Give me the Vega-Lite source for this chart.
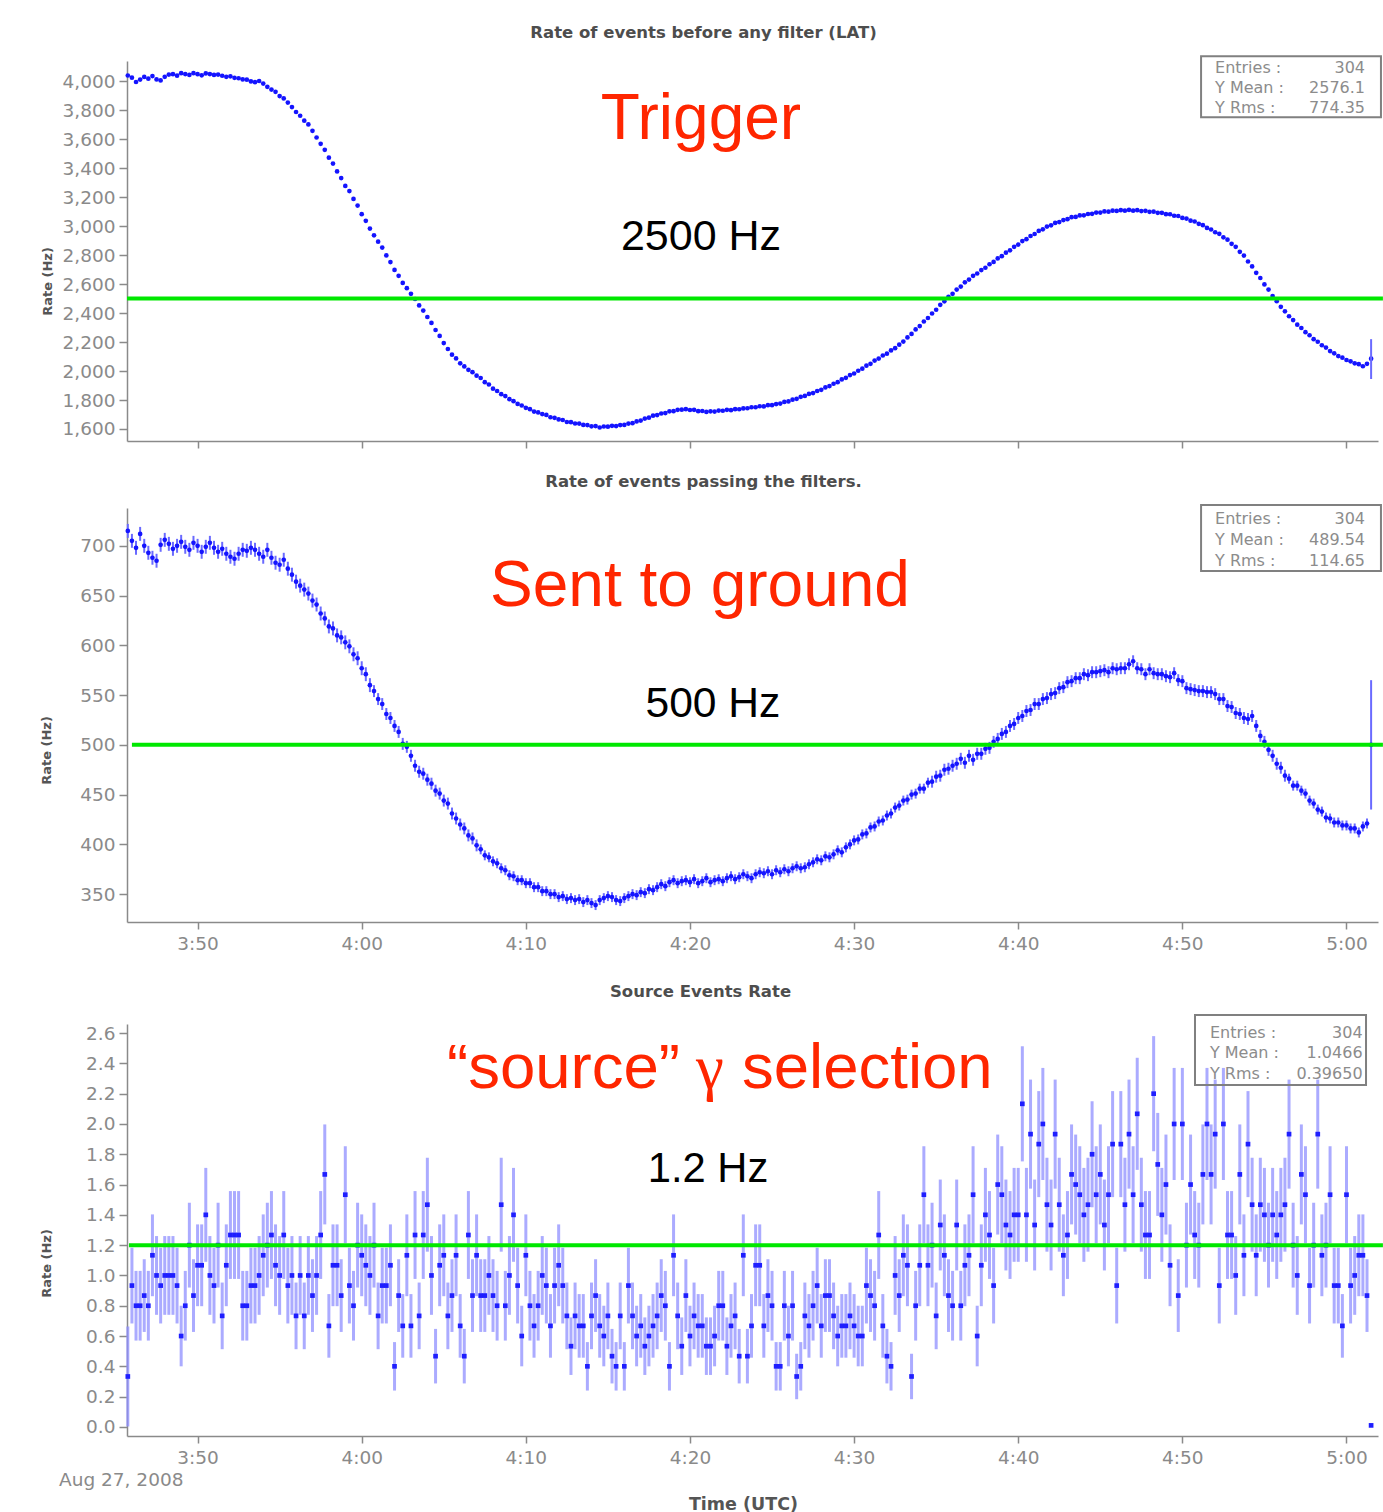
{
"$schema":"https://vega.github.io/schema/vega-lite/v6.json",
"padding":{"left":40,"top":24,"right":0,"bottom":0},
"background":"white",
"config":{"view":{"stroke":null},
"axis":{"grid":false,"domainColor":"#8a8a8a","domainWidth":1.5,"tickColor":"#8a8a8a","tickWidth":1.5,"tickSize":8,"labelColor":"#8a8a8a","labelFont":"DejaVu Sans","labelFontSize":18.5,"labelPadding":4,"titleFont":"DejaVu Sans","titleFontWeight":"bold","titleColor":"#555555","titleFontSize":13},
"axisX":{"tickSize":7,"labelPadding":5},
"title":{"font":"DejaVu Sans","fontSize":16.5,"fontWeight":"bold","color":"#4d4d4d","anchor":"middle"}},
"datasets":{"d":[
{"t":225.75,"a":4040,"b":715,"eb":7,"c":0.333,"ec":0.33},
{"t":226,"a":4025,"b":705,"eb":7,"c":0.933,"ec":0.25},
{"t":226.25,"a":3995,"b":698,"eb":7,"c":0.8,"ec":0.23},
{"t":226.5,"a":4012,"b":712,"eb":7,"c":0.8,"ec":0.23},
{"t":226.75,"a":4030,"b":700,"eb":7,"c":0.867,"ec":0.24},
{"t":227,"a":4018,"b":693,"eb":7,"c":0.8,"ec":0.23},
{"t":227.25,"a":4036,"b":688,"eb":7,"c":1.133,"ec":0.27},
{"t":227.5,"a":4013,"b":685,"eb":7,"c":1.0,"ec":0.26},
{"t":227.75,"a":4006,"b":701,"eb":7,"c":0.933,"ec":0.25},
{"t":228,"a":4031,"b":706,"eb":7,"c":1.0,"ec":0.26},
{"t":228.25,"a":4046,"b":702,"eb":7,"c":1.0,"ec":0.26},
{"t":228.5,"a":4049,"b":697,"eb":7,"c":1.0,"ec":0.26},
{"t":228.75,"a":4039,"b":700,"eb":7,"c":0.933,"ec":0.25},
{"t":229,"a":4056,"b":704,"eb":7,"c":0.6,"ec":0.2},
{"t":229.25,"a":4050,"b":699,"eb":7,"c":0.8,"ec":0.23},
{"t":229.5,"a":4044,"b":696,"eb":7,"c":1.2,"ec":0.28},
{"t":229.75,"a":4056,"b":703,"eb":7,"c":0.867,"ec":0.24},
{"t":230,"a":4049,"b":700,"eb":7,"c":1.067,"ec":0.27},
{"t":230.25,"a":4041,"b":694,"eb":7,"c":1.067,"ec":0.27},
{"t":230.5,"a":4054,"b":699,"eb":7,"c":1.4,"ec":0.31},
{"t":230.75,"a":4050,"b":703,"eb":7,"c":1.0,"ec":0.26},
{"t":231,"a":4044,"b":698,"eb":7,"c":0.933,"ec":0.25},
{"t":231.25,"a":4046,"b":694,"eb":7,"c":1.2,"ec":0.28},
{"t":231.5,"a":4038,"b":697,"eb":7,"c":0.733,"ec":0.22},
{"t":231.75,"a":4031,"b":692,"eb":7,"c":1.067,"ec":0.27},
{"t":232,"a":4034,"b":689,"eb":7,"c":1.267,"ec":0.29},
{"t":232.25,"a":4024,"b":687,"eb":7,"c":1.267,"ec":0.29},
{"t":232.5,"a":4021,"b":692,"eb":7,"c":1.267,"ec":0.29},
{"t":232.75,"a":4013,"b":696,"eb":7,"c":0.8,"ec":0.23},
{"t":233,"a":4011,"b":695,"eb":7,"c":0.8,"ec":0.23},
{"t":233.25,"a":3999,"b":698,"eb":7,"c":0.933,"ec":0.25},
{"t":233.5,"a":3994,"b":696,"eb":7,"c":0.933,"ec":0.25},
{"t":233.75,"a":4002,"b":692,"eb":7,"c":1.0,"ec":0.26},
{"t":234,"a":3984,"b":689,"eb":7,"c":1.133,"ec":0.27},
{"t":234.25,"a":3962,"b":696,"eb":7,"c":1.2,"ec":0.28},
{"t":234.5,"a":3943,"b":688,"eb":7,"c":1.267,"ec":0.29},
{"t":234.75,"a":3927,"b":683,"eb":7,"c":1.067,"ec":0.27},
{"t":235,"a":3898,"b":681,"eb":7,"c":1.0,"ec":0.26},
{"t":235.25,"a":3882,"b":686,"eb":7,"c":1.267,"ec":0.29},
{"t":235.5,"a":3853,"b":677,"eb":7,"c":0.933,"ec":0.25},
{"t":235.75,"a":3822,"b":671,"eb":7,"c":1.0,"ec":0.26},
{"t":236,"a":3788,"b":664,"eb":7,"c":0.733,"ec":0.22},
{"t":236.25,"a":3762,"b":660,"eb":7,"c":1.0,"ec":0.26},
{"t":236.5,"a":3728,"b":656,"eb":7,"c":0.733,"ec":0.22},
{"t":236.75,"a":3702,"b":652,"eb":7,"c":1.0,"ec":0.26},
{"t":237,"a":3658,"b":645,"eb":7,"c":0.867,"ec":0.24},
{"t":237.25,"a":3612,"b":641,"eb":7,"c":1.0,"ec":0.26},
{"t":237.5,"a":3568,"b":632,"eb":7,"c":1.267,"ec":0.29},
{"t":237.75,"a":3527,"b":627,"eb":7,"c":1.667,"ec":0.33},
{"t":238,"a":3473,"b":619,"eb":7,"c":0.667,"ec":0.21},
{"t":238.25,"a":3432,"b":617,"eb":7,"c":1.067,"ec":0.27},
{"t":238.5,"a":3378,"b":610,"eb":7,"c":1.067,"ec":0.27},
{"t":238.75,"a":3332,"b":608,"eb":7,"c":0.867,"ec":0.24},
{"t":239,"a":3278,"b":603,"eb":7,"c":1.533,"ec":0.32},
{"t":239.25,"a":3242,"b":599,"eb":7,"c":0.933,"ec":0.25},
{"t":239.5,"a":3188,"b":591,"eb":7,"c":0.8,"ec":0.23},
{"t":239.75,"a":3142,"b":587,"eb":7,"c":1.2,"ec":0.28},
{"t":240,"a":3083,"b":577,"eb":7,"c":1.133,"ec":0.27},
{"t":240.25,"a":3037,"b":571,"eb":7,"c":1.067,"ec":0.27},
{"t":240.5,"a":2983,"b":560,"eb":7,"c":1.0,"ec":0.26},
{"t":240.75,"a":2937,"b":554,"eb":6,"c":1.2,"ec":0.28},
{"t":241,"a":2893,"b":546,"eb":6,"c":0.733,"ec":0.22},
{"t":241.25,"a":2852,"b":541,"eb":6,"c":0.933,"ec":0.25},
{"t":241.5,"a":2798,"b":531,"eb":6,"c":0.933,"ec":0.25},
{"t":241.75,"a":2752,"b":527,"eb":6,"c":1.067,"ec":0.27},
{"t":242,"a":2698,"b":519,"eb":6,"c":0.4,"ec":0.16},
{"t":242.25,"a":2657,"b":513,"eb":6,"c":0.867,"ec":0.24},
{"t":242.5,"a":2608,"b":501,"eb":6,"c":0.667,"ec":0.21},
{"t":242.75,"a":2572,"b":498,"eb":6,"c":1.133,"ec":0.27},
{"t":243,"a":2533,"b":489,"eb":6,"c":0.667,"ec":0.21},
{"t":243.25,"a":2497,"b":479,"eb":6,"c":1.267,"ec":0.29},
{"t":243.5,"a":2453,"b":473,"eb":6,"c":0.733,"ec":0.22},
{"t":243.75,"a":2417,"b":471,"eb":6,"c":1.267,"ec":0.29},
{"t":244,"a":2373,"b":465,"eb":6,"c":1.467,"ec":0.31},
{"t":244.25,"a":2332,"b":461,"eb":6,"c":1.0,"ec":0.26},
{"t":244.5,"a":2283,"b":454,"eb":6,"c":0.467,"ec":0.18},
{"t":244.75,"a":2242,"b":451,"eb":6,"c":1.067,"ec":0.27},
{"t":245,"a":2193,"b":444,"eb":6,"c":1.133,"ec":0.27},
{"t":245.25,"a":2152,"b":441,"eb":6,"c":0.733,"ec":0.22},
{"t":245.5,"a":2113,"b":431,"eb":6,"c":0.867,"ec":0.24},
{"t":245.75,"a":2087,"b":426,"eb":6,"c":1.133,"ec":0.27},
{"t":246,"a":2053,"b":420,"eb":6,"c":0.667,"ec":0.21},
{"t":246.25,"a":2032,"b":416,"eb":6,"c":0.467,"ec":0.18},
{"t":246.5,"a":2008,"b":409,"eb":6,"c":1.267,"ec":0.29},
{"t":246.75,"a":1992,"b":406,"eb":6,"c":0.867,"ec":0.24},
{"t":247,"a":1968,"b":399,"eb":6,"c":1.133,"ec":0.27},
{"t":247.25,"a":1952,"b":395,"eb":5,"c":0.867,"ec":0.24},
{"t":247.5,"a":1923,"b":389,"eb":5,"c":0.867,"ec":0.24},
{"t":247.75,"a":1907,"b":387,"eb":5,"c":1.0,"ec":0.26},
{"t":248,"a":1878,"b":383,"eb":5,"c":0.867,"ec":0.24},
{"t":248.25,"a":1862,"b":381,"eb":5,"c":0.8,"ec":0.23},
{"t":248.5,"a":1840,"b":376,"eb":5,"c":1.467,"ec":0.31},
{"t":248.75,"a":1827,"b":374,"eb":5,"c":0.8,"ec":0.23},
{"t":249,"a":1806,"b":369,"eb":5,"c":1.0,"ec":0.26},
{"t":249.25,"a":1792,"b":368,"eb":5,"c":1.4,"ec":0.31},
{"t":249.5,"a":1773,"b":364,"eb":5,"c":0.933,"ec":0.25},
{"t":249.75,"a":1762,"b":364,"eb":5,"c":0.6,"ec":0.2},
{"t":250,"a":1746,"b":361,"eb":5,"c":1.133,"ec":0.27},
{"t":250.25,"a":1737,"b":361,"eb":5,"c":0.8,"ec":0.23},
{"t":250.5,"a":1720,"b":357,"eb":5,"c":0.667,"ec":0.21},
{"t":250.75,"a":1714,"b":357,"eb":5,"c":0.8,"ec":0.23},
{"t":251,"a":1703,"b":353,"eb":5,"c":1.0,"ec":0.26},
{"t":251.25,"a":1697,"b":353,"eb":5,"c":0.933,"ec":0.25},
{"t":251.5,"a":1681,"b":350,"eb":5,"c":0.667,"ec":0.21},
{"t":251.75,"a":1677,"b":350,"eb":5,"c":0.933,"ec":0.25},
{"t":252,"a":1666,"b":347,"eb":5,"c":1.067,"ec":0.27},
{"t":252.25,"a":1662,"b":348,"eb":5,"c":0.933,"ec":0.25},
{"t":252.5,"a":1648,"b":345,"eb":5,"c":0.733,"ec":0.22},
{"t":252.75,"a":1647,"b":346,"eb":5,"c":0.533,"ec":0.19},
{"t":253,"a":1638,"b":344,"eb":5,"c":0.733,"ec":0.22},
{"t":253.25,"a":1637,"b":345,"eb":5,"c":0.667,"ec":0.21},
{"t":253.5,"a":1628,"b":342,"eb":5,"c":0.667,"ec":0.21},
{"t":253.75,"a":1627,"b":344,"eb":5,"c":0.4,"ec":0.16},
{"t":254,"a":1618,"b":341,"eb":5,"c":0.733,"ec":0.22},
{"t":254.25,"a":1620,"b":339,"eb":5,"c":0.867,"ec":0.24},
{"t":254.5,"a":1610,"b":344,"eb":5,"c":0.667,"ec":0.21},
{"t":254.75,"a":1617,"b":346,"eb":5,"c":0.6,"ec":0.2},
{"t":255,"a":1616,"b":348,"eb":5,"c":0.733,"ec":0.22},
{"t":255.25,"a":1622,"b":347,"eb":5,"c":0.467,"ec":0.18},
{"t":255.5,"a":1620,"b":344,"eb":5,"c":0.4,"ec":0.16},
{"t":255.75,"a":1627,"b":343,"eb":5,"c":0.733,"ec":0.22},
{"t":256,"a":1628,"b":346,"eb":5,"c":0.4,"ec":0.16},
{"t":256.25,"a":1637,"b":348,"eb":5,"c":0.933,"ec":0.25},
{"t":256.5,"a":1640,"b":350,"eb":5,"c":0.733,"ec":0.22},
{"t":256.75,"a":1652,"b":349,"eb":5,"c":0.6,"ec":0.2},
{"t":257,"a":1658,"b":352,"eb":5,"c":0.667,"ec":0.21},
{"t":257.25,"a":1672,"b":351,"eb":5,"c":0.533,"ec":0.19},
{"t":257.5,"a":1678,"b":355,"eb":5,"c":0.6,"ec":0.2},
{"t":257.75,"a":1692,"b":354,"eb":5,"c":0.667,"ec":0.21},
{"t":258,"a":1696,"b":357,"eb":5,"c":0.733,"ec":0.22},
{"t":258.25,"a":1707,"b":360,"eb":5,"c":0.867,"ec":0.24},
{"t":258.5,"a":1710,"b":358,"eb":5,"c":0.8,"ec":0.23},
{"t":258.75,"a":1722,"b":362,"eb":5,"c":0.4,"ec":0.16},
{"t":259,"a":1723,"b":364,"eb":5,"c":1.133,"ec":0.27},
{"t":259.25,"a":1732,"b":361,"eb":5,"c":0.733,"ec":0.22},
{"t":259.5,"a":1733,"b":363,"eb":5,"c":0.533,"ec":0.19},
{"t":259.75,"a":1737,"b":364,"eb":5,"c":0.867,"ec":0.24},
{"t":260,"a":1731,"b":362,"eb":5,"c":0.6,"ec":0.2},
{"t":260.25,"a":1732,"b":365,"eb":5,"c":0.733,"ec":0.22},
{"t":260.5,"a":1723,"b":361,"eb":5,"c":0.667,"ec":0.21},
{"t":260.75,"a":1724,"b":363,"eb":5,"c":0.667,"ec":0.21},
{"t":261,"a":1718,"b":366,"eb":5,"c":0.533,"ec":0.19},
{"t":261.25,"a":1722,"b":362,"eb":5,"c":0.533,"ec":0.19},
{"t":261.5,"a":1720,"b":364,"eb":5,"c":0.6,"ec":0.2},
{"t":261.75,"a":1727,"b":365,"eb":5,"c":0.8,"ec":0.23},
{"t":262,"a":1726,"b":363,"eb":5,"c":0.8,"ec":0.23},
{"t":262.25,"a":1732,"b":366,"eb":5,"c":0.533,"ec":0.19},
{"t":262.5,"a":1730,"b":368,"eb":5,"c":0.667,"ec":0.21},
{"t":262.75,"a":1737,"b":365,"eb":5,"c":0.733,"ec":0.22},
{"t":263,"a":1736,"b":367,"eb":5,"c":0.467,"ec":0.18},
{"t":263.25,"a":1742,"b":370,"eb":5,"c":1.133,"ec":0.27},
{"t":263.5,"a":1743,"b":368,"eb":5,"c":0.467,"ec":0.18},
{"t":263.75,"a":1750,"b":366,"eb":5,"c":0.667,"ec":0.21},
{"t":264,"a":1750,"b":370,"eb":5,"c":1.067,"ec":0.27},
{"t":264.25,"a":1757,"b":372,"eb":5,"c":1.067,"ec":0.27},
{"t":264.5,"a":1756,"b":371,"eb":5,"c":0.667,"ec":0.21},
{"t":264.75,"a":1764,"b":373,"eb":5,"c":0.867,"ec":0.24},
{"t":265,"a":1764,"b":370,"eb":5,"c":0.8,"ec":0.23},
{"t":265.25,"a":1772,"b":374,"eb":5,"c":0.4,"ec":0.16},
{"t":265.5,"a":1775,"b":372,"eb":5,"c":0.4,"ec":0.16},
{"t":265.75,"a":1787,"b":375,"eb":5,"c":0.8,"ec":0.23},
{"t":266,"a":1790,"b":373,"eb":5,"c":0.6,"ec":0.2},
{"t":266.25,"a":1802,"b":376,"eb":5,"c":0.8,"ec":0.23},
{"t":266.5,"a":1808,"b":378,"eb":5,"c":0.333,"ec":0.15},
{"t":266.75,"a":1822,"b":376,"eb":5,"c":0.4,"ec":0.16},
{"t":267,"a":1828,"b":377,"eb":5,"c":0.733,"ec":0.22},
{"t":267.25,"a":1842,"b":380,"eb":5,"c":0.667,"ec":0.21},
{"t":267.5,"a":1848,"b":382,"eb":5,"c":0.8,"ec":0.23},
{"t":267.75,"a":1862,"b":385,"eb":5,"c":0.933,"ec":0.25},
{"t":268,"a":1870,"b":384,"eb":5,"c":0.667,"ec":0.21},
{"t":268.25,"a":1887,"b":388,"eb":5,"c":0.867,"ec":0.24},
{"t":268.5,"a":1896,"b":387,"eb":5,"c":0.867,"ec":0.24},
{"t":268.75,"a":1912,"b":390,"eb":5,"c":0.733,"ec":0.22},
{"t":269,"a":1923,"b":394,"eb":5,"c":0.6,"ec":0.2},
{"t":269.25,"a":1942,"b":392,"eb":5,"c":0.667,"ec":0.21},
{"t":269.5,"a":1953,"b":397,"eb":5,"c":0.667,"ec":0.21},
{"t":269.75,"a":1972,"b":400,"eb":5,"c":0.733,"ec":0.22},
{"t":270,"a":1983,"b":404,"eb":5,"c":0.667,"ec":0.21},
{"t":270.25,"a":2002,"b":405,"eb":5,"c":0.6,"ec":0.2},
{"t":270.5,"a":2016,"b":410,"eb":5,"c":0.6,"ec":0.2},
{"t":270.75,"a":2037,"b":411,"eb":5,"c":0.933,"ec":0.25},
{"t":271,"a":2050,"b":417,"eb":5,"c":0.867,"ec":0.24},
{"t":271.25,"a":2072,"b":418,"eb":5,"c":0.8,"ec":0.23},
{"t":271.5,"a":2086,"b":423,"eb":5,"c":1.267,"ec":0.29},
{"t":271.75,"a":2107,"b":424,"eb":5,"c":0.667,"ec":0.21},
{"t":272,"a":2120,"b":429,"eb":5,"c":0.467,"ec":0.18},
{"t":272.25,"a":2142,"b":431,"eb":5,"c":0.4,"ec":0.16},
{"t":272.5,"a":2158,"b":437,"eb":5,"c":1.0,"ec":0.26},
{"t":272.75,"a":2182,"b":439,"eb":5,"c":0.867,"ec":0.24},
{"t":273,"a":2203,"b":444,"eb":5,"c":1.133,"ec":0.27},
{"t":273.25,"a":2232,"b":445,"eb":5,"c":1.067,"ec":0.27},
{"t":273.5,"a":2256,"b":450,"eb":5,"c":0.333,"ec":0.15},
{"t":273.75,"a":2287,"b":451,"eb":5,"c":0.8,"ec":0.23},
{"t":274,"a":2310,"b":456,"eb":5,"c":1.067,"ec":0.27},
{"t":274.25,"a":2342,"b":456,"eb":5,"c":1.533,"ec":0.32},
{"t":274.5,"a":2366,"b":462,"eb":5,"c":1.067,"ec":0.27},
{"t":274.75,"a":2397,"b":463,"eb":6,"c":1.2,"ec":0.28},
{"t":275,"a":2423,"b":468,"eb":6,"c":0.733,"ec":0.22},
{"t":275.25,"a":2457,"b":469,"eb":6,"c":1.333,"ec":0.3},
{"t":275.5,"a":2481,"b":475,"eb":6,"c":1.133,"ec":0.27},
{"t":275.75,"a":2512,"b":476,"eb":6,"c":0.867,"ec":0.24},
{"t":276,"a":2533,"b":479,"eb":6,"c":0.8,"ec":0.23},
{"t":276.25,"a":2562,"b":481,"eb":6,"c":1.333,"ec":0.3},
{"t":276.5,"a":2583,"b":486,"eb":6,"c":0.8,"ec":0.23},
{"t":276.75,"a":2612,"b":482,"eb":6,"c":1.067,"ec":0.27},
{"t":277,"a":2631,"b":489,"eb":6,"c":1.133,"ec":0.27},
{"t":277.25,"a":2657,"b":485,"eb":6,"c":1.533,"ec":0.32},
{"t":277.5,"a":2673,"b":491,"eb":6,"c":0.6,"ec":0.2},
{"t":277.75,"a":2697,"b":491,"eb":6,"c":1.067,"ec":0.27},
{"t":278,"a":2713,"b":496,"eb":6,"c":1.4,"ec":0.31},
{"t":278.25,"a":2737,"b":497,"eb":6,"c":1.267,"ec":0.29},
{"t":278.5,"a":2753,"b":503,"eb":6,"c":0.933,"ec":0.25},
{"t":278.75,"a":2777,"b":506,"eb":6,"c":1.6,"ec":0.33},
{"t":279,"a":2793,"b":511,"eb":6,"c":1.533,"ec":0.32},
{"t":279.25,"a":2817,"b":513,"eb":6,"c":1.333,"ec":0.3},
{"t":279.5,"a":2833,"b":519,"eb":6,"c":1.267,"ec":0.29},
{"t":279.75,"a":2857,"b":521,"eb":6,"c":1.4,"ec":0.31},
{"t":280,"a":2873,"b":527,"eb":6,"c":1.4,"ec":0.31},
{"t":280.25,"a":2897,"b":529,"eb":6,"c":2.133,"ec":0.38},
{"t":280.5,"a":2910,"b":534,"eb":6,"c":1.4,"ec":0.31},
{"t":280.75,"a":2932,"b":535,"eb":6,"c":1.933,"ec":0.36},
{"t":281,"a":2946,"b":541,"eb":6,"c":1.333,"ec":0.3},
{"t":281.25,"a":2967,"b":541,"eb":6,"c":1.867,"ec":0.35},
{"t":281.5,"a":2978,"b":546,"eb":6,"c":2.0,"ec":0.37},
{"t":281.75,"a":2997,"b":547,"eb":6,"c":1.467,"ec":0.31},
{"t":282,"a":3006,"b":551,"eb":6,"c":1.333,"ec":0.3},
{"t":282.25,"a":3022,"b":552,"eb":6,"c":1.933,"ec":0.36},
{"t":282.5,"a":3028,"b":557,"eb":6,"c":1.467,"ec":0.31},
{"t":282.75,"a":3042,"b":558,"eb":6,"c":1.133,"ec":0.27},
{"t":283,"a":3048,"b":563,"eb":6,"c":1.267,"ec":0.29},
{"t":283.25,"a":3062,"b":564,"eb":6,"c":1.667,"ec":0.33},
{"t":283.5,"a":3064,"b":567,"eb":6,"c":1.6,"ec":0.33},
{"t":283.75,"a":3074,"b":567,"eb":6,"c":1.533,"ec":0.32},
{"t":284,"a":3075,"b":571,"eb":6,"c":1.4,"ec":0.31},
{"t":284.25,"a":3084,"b":570,"eb":6,"c":1.467,"ec":0.31},
{"t":284.5,"a":3085,"b":573,"eb":6,"c":1.8,"ec":0.35},
{"t":284.75,"a":3094,"b":573,"eb":6,"c":1.533,"ec":0.32},
{"t":285,"a":3094,"b":574,"eb":6,"c":1.667,"ec":0.33},
{"t":285.25,"a":3102,"b":575,"eb":6,"c":1.333,"ec":0.3},
{"t":285.5,"a":3100,"b":573,"eb":6,"c":1.533,"ec":0.32},
{"t":285.75,"a":3107,"b":577,"eb":6,"c":1.867,"ec":0.35},
{"t":286,"a":3105,"b":576,"eb":6,"c":0.933,"ec":0.25},
{"t":286.25,"a":3110,"b":577,"eb":6,"c":1.867,"ec":0.35},
{"t":286.5,"a":3107,"b":577,"eb":6,"c":1.467,"ec":0.31},
{"t":286.75,"a":3112,"b":581,"eb":6,"c":1.933,"ec":0.36},
{"t":287,"a":3107,"b":584,"eb":6,"c":1.533,"ec":0.32},
{"t":287.25,"a":3110,"b":577,"eb":6,"c":2.067,"ec":0.37},
{"t":287.5,"a":3104,"b":576,"eb":6,"c":1.467,"ec":0.31},
{"t":287.75,"a":3106,"b":571,"eb":6,"c":1.267,"ec":0.29},
{"t":288,"a":3099,"b":576,"eb":6,"c":1.267,"ec":0.29},
{"t":288.25,"a":3100,"b":572,"eb":6,"c":2.2,"ec":0.38},
{"t":288.5,"a":3092,"b":571,"eb":6,"c":1.733,"ec":0.34},
{"t":288.75,"a":3092,"b":571,"eb":6,"c":1.4,"ec":0.31},
{"t":289,"a":3083,"b":569,"eb":6,"c":1.6,"ec":0.33},
{"t":289.25,"a":3082,"b":568,"eb":6,"c":1.067,"ec":0.27},
{"t":289.5,"a":3072,"b":572,"eb":6,"c":2.0,"ec":0.37},
{"t":289.75,"a":3070,"b":565,"eb":6,"c":0.867,"ec":0.24},
{"t":290,"a":3057,"b":564,"eb":6,"c":2.0,"ec":0.37},
{"t":290.25,"a":3052,"b":557,"eb":6,"c":1.2,"ec":0.28},
{"t":290.5,"a":3038,"b":556,"eb":6,"c":1.6,"ec":0.33},
{"t":290.75,"a":3032,"b":555,"eb":6,"c":1.267,"ec":0.29},
{"t":291,"a":3016,"b":554,"eb":6,"c":1.2,"ec":0.28},
{"t":291.25,"a":3007,"b":554,"eb":6,"c":1.667,"ec":0.33},
{"t":291.5,"a":2988,"b":553,"eb":6,"c":2.0,"ec":0.37},
{"t":291.75,"a":2977,"b":553,"eb":6,"c":1.667,"ec":0.33},
{"t":292,"a":2958,"b":551,"eb":6,"c":1.933,"ec":0.36},
{"t":292.25,"a":2947,"b":546,"eb":6,"c":0.933,"ec":0.25},
{"t":292.5,"a":2923,"b":546,"eb":6,"c":2.0,"ec":0.37},
{"t":292.75,"a":2907,"b":539,"eb":6,"c":1.267,"ec":0.29},
{"t":293,"a":2878,"b":538,"eb":6,"c":1.267,"ec":0.29},
{"t":293.25,"a":2857,"b":532,"eb":6,"c":1.0,"ec":0.26},
{"t":293.5,"a":2823,"b":531,"eb":6,"c":1.667,"ec":0.33},
{"t":293.75,"a":2797,"b":527,"eb":6,"c":1.133,"ec":0.27},
{"t":294,"a":2756,"b":526,"eb":6,"c":1.867,"ec":0.35},
{"t":294.25,"a":2722,"b":529,"eb":6,"c":1.467,"ec":0.31},
{"t":294.5,"a":2678,"b":519,"eb":6,"c":1.133,"ec":0.27},
{"t":294.75,"a":2642,"b":509,"eb":6,"c":1.467,"ec":0.31},
{"t":295,"a":2598,"b":503,"eb":6,"c":1.4,"ec":0.31},
{"t":295.25,"a":2562,"b":495,"eb":6,"c":1.2,"ec":0.28},
{"t":295.5,"a":2518,"b":489,"eb":6,"c":1.4,"ec":0.31},
{"t":295.75,"a":2482,"b":481,"eb":6,"c":1.267,"ec":0.29},
{"t":296,"a":2443,"b":477,"eb":6,"c":1.4,"ec":0.31},
{"t":296.25,"a":2412,"b":469,"eb":6,"c":1.467,"ec":0.31},
{"t":296.5,"a":2378,"b":466,"eb":5,"c":1.933,"ec":0.36},
{"t":296.75,"a":2352,"b":459,"eb":5,"c":1.2,"ec":0.28},
{"t":297,"a":2320,"b":459,"eb":5,"c":1.0,"ec":0.26},
{"t":297.25,"a":2297,"b":454,"eb":5,"c":1.667,"ec":0.33},
{"t":297.5,"a":2268,"b":451,"eb":5,"c":1.533,"ec":0.32},
{"t":297.75,"a":2247,"b":444,"eb":5,"c":0.933,"ec":0.25},
{"t":298,"a":2220,"b":441,"eb":5,"c":1.2,"ec":0.28},
{"t":298.25,"a":2202,"b":435,"eb":5,"c":1.933,"ec":0.36},
{"t":298.5,"a":2178,"b":433,"eb":5,"c":1.133,"ec":0.27},
{"t":298.75,"a":2162,"b":427,"eb":5,"c":1.2,"ec":0.28},
{"t":299,"a":2138,"b":426,"eb":5,"c":1.533,"ec":0.32},
{"t":299.25,"a":2122,"b":422,"eb":5,"c":0.933,"ec":0.25},
{"t":299.5,"a":2103,"b":422,"eb":5,"c":0.933,"ec":0.25},
{"t":299.75,"a":2092,"b":419,"eb":5,"c":0.667,"ec":0.21},
{"t":300,"a":2076,"b":419,"eb":5,"c":1.533,"ec":0.32},
{"t":300.25,"a":2067,"b":416,"eb":5,"c":0.933,"ec":0.25},
{"t":300.5,"a":2053,"b":416,"eb":5,"c":1.0,"ec":0.26},
{"t":300.75,"a":2047,"b":412,"eb":5,"c":1.133,"ec":0.27},
{"t":301,"a":2033,"b":418,"eb":5,"c":1.133,"ec":0.27},
{"t":301.25,"a":2050,"b":421,"eb":5,"c":0.867,"ec":0.24},
{"t":301.5,"a":2085,"b":500,"eb":65,"c":0.01,"ec":0}
]},
"vconcat":[
{"width":1251,"height":380,
"title":{"text":"Rate of events before any filter (LAT)","offset":14,"dx":-49},
"data":{"name":"d"},
"encoding":{
"x":{"field":"t","type":"quantitative","scale":{"domain":[225.7,301.92],"nice":false,"zero":false},"axis":{"title":null,"labels":false,"values":[230,240,250,260,270,280,290,300]}},
"y":{"field":"a","type":"quantitative","scale":{"domain":[1517,4140],"nice":false,"zero":false},"axis":{"title":"Rate (Hz)","values":[1600,1800,2000,2200,2400,2600,2800,3000,3200,3400,3600,3800,4000],"format":",.0f","titlePadding":8,"titleY":220}}},
"layer":[
{"mark":{"type":"point","filled":true,"shape":"circle","size":22,"color":"#1414ff","opacity":1},"encoding":{}},
{"data":{"values":[{"t":301.5,"a":1945,"a2":2220}]},"mark":{"type":"rule","color":"#6a6aff","strokeWidth":2},"encoding":{"y2":{"field":"a2"}}},
{"data":{"values":[{"t":225.7,"t2":302.22,"a":2500}]},"mark":{"type":"rule","color":"#00e800","strokeWidth":4},"encoding":{"x2":{"field":"t2"}}},
{"data":{"values":[{"t":291.14,"t2":302.1,"a":4172,"a2":3751}]},"mark":{"type":"rect","fillOpacity":0,"stroke":"#808080","strokeWidth":2},"encoding":{"x2":{"field":"t2"},"y2":{"field":"a2"}}},
{"data":{"values":[{"t":291.99,"a":4055,"s":"Entries :"},{"t":291.99,"a":3917,"s":"Y Mean :"},{"t":291.99,"a":3779,"s":"Y Rms :"}]},"mark":{"type":"text","align":"left","baseline":"alphabetic","fontSize":16,"color":"#8c8c8c","font":"DejaVu Sans"},"encoding":{"text":{"field":"s"}}},
{"data":{"values":[{"t":301.13,"a":4055,"s":"304"},{"t":301.13,"a":3917,"s":"2576.1"},{"t":301.13,"a":3779,"s":"774.35"}]},"mark":{"type":"text","align":"right","baseline":"alphabetic","fontSize":16,"color":"#8c8c8c","font":"DejaVu Sans"},"encoding":{"text":{"field":"s"}}},
{"data":{"values":[{"t":260.67,"a":3600,"s":"Trigger"}]},"mark":{"type":"text","align":"center","baseline":"alphabetic","fontSize":64,"color":"#ff2600","font":"Liberation Sans"},"encoding":{"text":{"field":"s"}}},
{"data":{"values":[{"t":260.67,"a":2833,"s":"2500 Hz"}]},"mark":{"type":"text","align":"center","baseline":"alphabetic","fontSize":43,"color":"#000000","font":"Liberation Sans"},"encoding":{"text":{"field":"s"}}}
]},
{"width":1251,"height":414,
"title":{"text":"Rate of events passing the filters.","offset":14,"dx":-49},
"data":{"name":"d"},
"encoding":{
"x":{"field":"t","type":"quantitative","scale":{"domain":[225.7,301.92],"nice":false,"zero":false},"axis":{"title":" ","titleFontSize":1,"titlePadding":5,"values":[230,240,250,260,270,280,290,300],"labelExpr":"floor(datum.value/60) + ':' + (datum.value % 60 < 10 ? '0' : '') + (datum.value % 60)"}},
"y":{"field":"b","type":"quantitative","scale":{"domain":[322,738],"nice":false,"zero":false},"axis":{"title":"Rate (Hz)","values":[350,400,450,500,550,600,650,700],"titlePadding":26,"titleY":242}}},
"layer":[
{"mark":{"type":"errorbar","color":"#6a6aff","thickness":2},"encoding":{"yError":{"field":"eb"}}},
{"mark":{"type":"point","filled":true,"shape":"circle","size":22,"color":"#1414ff","opacity":1},"encoding":{}},
{"data":{"values":[{"t":226.0,"t2":302.22,"b":500}]},"mark":{"type":"rule","color":"#00e800","strokeWidth":4},"encoding":{"x2":{"field":"t2"}}},
{"data":{"values":[{"t":291.14,"t2":302.1,"b":741,"b2":674.7}]},"mark":{"type":"rect","fillOpacity":0,"stroke":"#808080","strokeWidth":2},"encoding":{"x2":{"field":"t2"},"y2":{"field":"b2"}}},
{"data":{"values":[{"t":291.99,"b":721.9,"s":"Entries :"},{"t":291.99,"b":700.8,"s":"Y Mean :"},{"t":291.99,"b":679.7,"s":"Y Rms :"}]},"mark":{"type":"text","align":"left","baseline":"alphabetic","fontSize":16,"color":"#8c8c8c","font":"DejaVu Sans"},"encoding":{"text":{"field":"s"}}},
{"data":{"values":[{"t":301.13,"b":721.9,"s":"304"},{"t":301.13,"b":700.8,"s":"489.54"},{"t":301.13,"b":679.7,"s":"114.65"}]},"mark":{"type":"text","align":"right","baseline":"alphabetic","fontSize":16,"color":"#8c8c8c","font":"DejaVu Sans"},"encoding":{"text":{"field":"s"}}},
{"data":{"values":[{"t":260.61,"b":639.5,"s":"Sent to ground"}]},"mark":{"type":"text","align":"center","baseline":"alphabetic","fontSize":64,"color":"#ff2600","font":"Liberation Sans"},"encoding":{"text":{"field":"s"}}},
{"data":{"values":[{"t":261.4,"b":528,"s":"500 Hz"}]},"mark":{"type":"text","align":"center","baseline":"alphabetic","fontSize":42.6,"color":"#000000","font":"Liberation Sans"},"encoding":{"text":{"field":"s"}}}
]},
{"width":1251,"height":412,
"title":{"text":"Source Events Rate","offset":14,"dx":-52},
"data":{"name":"d"},
"encoding":{
"x":{"field":"t","type":"quantitative","scale":{"domain":[225.7,301.92],"nice":false,"zero":false},"axis":{"title":"Time (UTC)","titleFontSize":17.5,"titlePadding":29,"titleX":616,"values":[230,240,250,260,270,280,290,300],"labelExpr":"floor(datum.value/60) + ':' + (datum.value % 60 < 10 ? '0' : '') + (datum.value % 60)"}},
"y":{"field":"c","type":"quantitative","scale":{"domain":[-0.06,2.66],"nice":false,"zero":false},"axis":{"title":"Rate (Hz)","values":[0,0.2,0.4,0.6,0.8,1.0,1.2,1.4,1.6,1.8,2.0,2.2,2.4,2.6],"format":".1f","titlePadding":32,"titleY":239}}},
"layer":[
{"mark":{"type":"errorbar","color":"#8f8fff","thickness":3,"opacity":0.75},"encoding":{"yError":{"field":"ec"}}},
{"mark":{"type":"square","size":22,"color":"#1e1eff","opacity":1},"encoding":{}},
{"data":{"values":[{"t":225.82,"t2":302.22,"c":1.2}]},"mark":{"type":"rule","color":"#00e800","strokeWidth":4},"encoding":{"x2":{"field":"t2"}}},
{"data":{"values":[{"t":290.77,"t2":301.19,"c":2.719,"c2":2.257}]},"mark":{"type":"rect","fillOpacity":0,"stroke":"#808080","strokeWidth":2},"encoding":{"x2":{"field":"t2"},"y2":{"field":"c2"}}},
{"data":{"values":[{"t":291.68,"c":2.57,"s":"Entries :"},{"t":291.68,"c":2.435,"s":"Y Mean :"},{"t":291.68,"c":2.296,"s":"Y Rms :"}]},"mark":{"type":"text","align":"left","baseline":"alphabetic","fontSize":16,"color":"#8c8c8c","font":"DejaVu Sans"},"encoding":{"text":{"field":"s"}}},
{"data":{"values":[{"t":300.98,"c":2.57,"s":"304"},{"t":300.98,"c":2.435,"s":"1.0466"},{"t":300.98,"c":2.296,"s":"0.39650"}]},"mark":{"type":"text","align":"right","baseline":"alphabetic","fontSize":16,"color":"#8c8c8c","font":"DejaVu Sans"},"encoding":{"text":{"field":"s"}}},
{"data":{"values":[{"t":245.2,"c":2.237,"s":"“source”"},{"t":263.17,"c":2.237,"s":"selection"}]},"mark":{"type":"text","align":"left","baseline":"alphabetic","fontSize":63.5,"color":"#ff2600","font":"Liberation Sans"},"encoding":{"text":{"field":"s"}}},
{"data":{"values":[{"t":261.22,"c":2.237,"s":"γ"}]},"mark":{"type":"text","align":"center","baseline":"alphabetic","fontSize":63,"color":"#ff2600","font":"Liberation Serif"},"encoding":{"text":{"field":"s"}}},
{"data":{"values":[{"t":261.1,"c":1.62,"s":"1.2 Hz"}]},"mark":{"type":"text","align":"center","baseline":"alphabetic","fontSize":41.7,"color":"#000000","font":"Liberation Sans"},"encoding":{"text":{"field":"s"}}},
{"data":{"values":[{"t":221.56,"c":-0.387,"s":"Aug 27, 2008"}]},"mark":{"type":"text","align":"left","baseline":"alphabetic","fontSize":18.5,"color":"#8a8a8a","font":"DejaVu Sans"},"encoding":{"text":{"field":"s"}}}
]}
],
"spacing":24
}
